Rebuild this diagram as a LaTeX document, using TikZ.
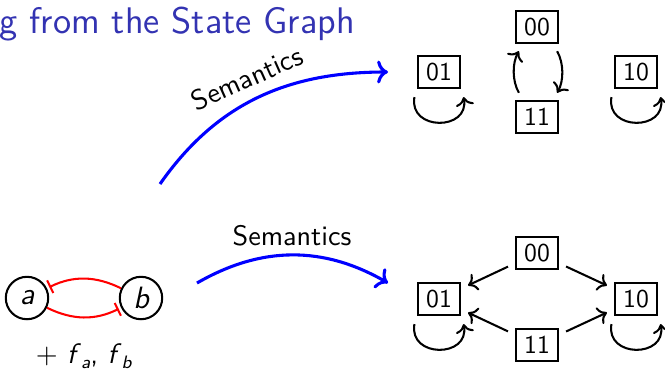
\documentclass[tikz,border=0pt]{standalone}
\usetikzlibrary{arrows.meta}
\definecolor{titleblue}{RGB}{51,51,178}
\tikzset{
  state/.style={draw, thick, minimum width=16pt, minimum height=12.5pt, inner sep=0pt, font=\sffamily\fontsize{10}{12}\selectfont},
  gene/.style={draw, thick, circle, minimum size=16.5pt, inner sep=0pt, font=\sffamily\slshape\fontsize{12}{14}\selectfont},
  trans/.style={->, thick, shorten >=3.2pt, shorten <=3.2pt},
  selfloop/.style={->, thick, looseness=1.8},
  inhib/.style={-{Bar[width=5.5pt]}, red, thick, shorten >=1pt},
  sem/.style={->, blue, very thick},
  semlabel/.style={font=\sffamily\fontsize{10.95}{13}\selectfont}
}
\newcommand{\sub}[1]{\raisebox{-2pt}{\scriptsize\textsl{#1}}}
\begin{document}
\begin{tikzpicture}[x=0.389pt, y=-0.389pt]
\useasboundingbox (0,0) rectangle (665,369);
% title
\node[anchor=base west, inner sep=0pt, text=titleblue, font=\sffamily\fontsize{14.4}{17}\selectfont] (title) at (-1,33) {g from the State Graph};

% genes a and b
\node[gene] (a) at (27,298) {a};
\node[gene] (b) at (141,298) {b};
\draw[inhib] (b) to[bend right=26] (a);
\draw[inhib] (a) to[bend right=26] (b);
\node[semlabel, anchor=base] (params) at (84,363) {+ \textsl{f}\sub{a}, \textsl{f}\sub{b}};

% upper semantics
\coordinate (semA) at (160,184);
\coordinate (semB) at (388,72);
\draw[sem] (semA) to[out=55,in=180] (semB);
\node[semlabel, rotate=24] (semtop) at (247,78) {Semantics};

\node[state] (up01) at (439,72) {01};
\node[state] (up00) at (537,27) {00};
\node[state] (up11) at (537,117) {11};
\node[state] (up10) at (636,72) {10};
\draw[trans] ([shift={(-14,0)}]up11.north) to[bend left=30] ([shift={(-14,0)}]up00.south);
\draw[trans] ([shift={(16,0)}]up00.south) to[bend left=30] ([shift={(16,0)}]up11.north);
\draw[selfloop] ([shift={(-3,8)}]up01.south west) to[out=-100,in=-80] ([shift={(3,8)}]up01.south east);
\draw[selfloop] ([shift={(-3,8)}]up10.south west) to[out=-100,in=-80] ([shift={(3,8)}]up10.south east);

% lower semantics
\coordinate (semC) at (197,283);
\coordinate (semD) at (388,283);
\draw[sem] (semC) to[bend left=30] (semD);
\node[semlabel] (semlow) at (292,236) {Semantics};

\node[state] (lo01) at (439,299) {01};
\node[state] (lo00) at (537,253) {00};
\node[state] (lo11) at (537,345) {11};
\node[state] (lo10) at (636,299) {10};
\draw[trans] (lo00) -- (lo01);
\draw[trans] (lo00) -- (lo10);
\draw[trans] (lo11) -- (lo01);
\draw[trans] (lo11) -- (lo10);
\draw[selfloop] ([shift={(-3,8)}]lo01.south west) to[out=-100,in=-80] ([shift={(3,8)}]lo01.south east);
\draw[selfloop] ([shift={(-3,8)}]lo10.south west) to[out=-100,in=-80] ([shift={(3,8)}]lo10.south east);
\end{tikzpicture}
\end{document}
